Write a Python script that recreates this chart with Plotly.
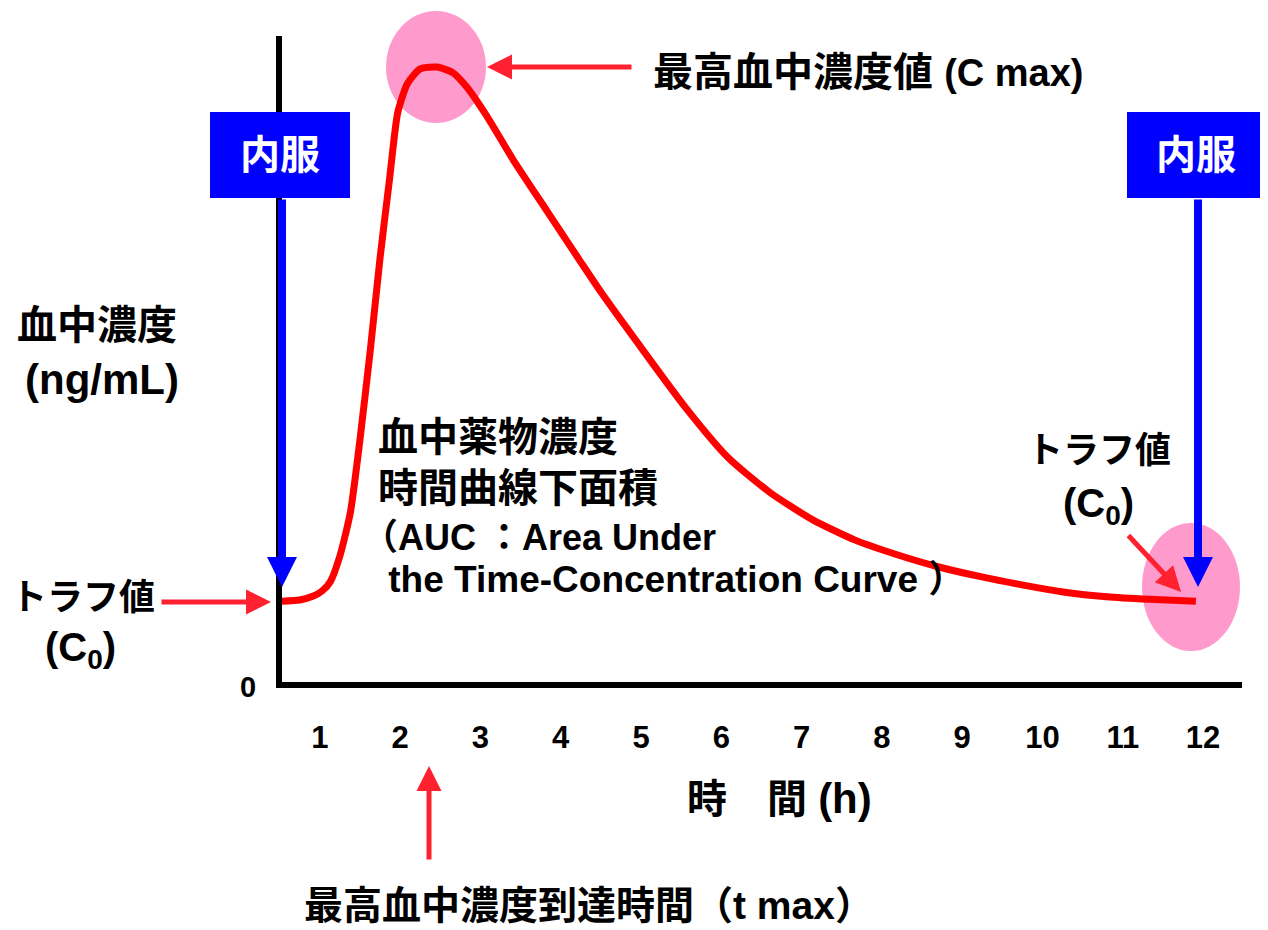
import plotly.graph_objects as go

# ---- data ----
time_h = [0.5, 0.75, 0.92, 1.03, 1.13, 1.25, 1.38, 1.50, 1.63, 1.75,
          1.87, 1.97, 2.09, 2.25, 2.46, 2.66, 2.83, 3.08, 3.41, 3.83,
          4.24, 4.51, 5.04, 5.56, 6.08, 6.61, 7.14, 7.66, 8.19, 8.71,
          9.23, 9.76, 10.28, 10.80, 11.33, 11.91]
conc = [12.5, 12.7, 13.3, 14.1, 15.5, 19.5, 26.2, 37.5, 51.5, 65.6,
        78.0, 88.1, 92.6, 94.9, 95.2, 94.3, 92.1, 87.6, 80.8, 72.9,
        65.2, 60.2, 51.1, 42.4, 34.8, 29.3, 25.1, 22.0, 19.7, 17.8,
        16.3, 15.0, 13.9, 13.2, 12.8, 12.5]
x_ticks = [1, 2, 3, 4, 5, 6, 7, 8, 9, 10, 11, 12]
x_tick_labels = [str(v) for v in x_ticks]
y_ticks = [0]
y_tick_labels = ["0"]

# ---- layout geometry ----
# The page body adds an 8px margin, so the figure is drawn 8px smaller and
# every position below is given in window pixels and shifted by OFF.
OFF = 8
FW, FH = 1268 - OFF, 930 - OFF
L, R, T, B = 282, 1242, 36, 682          # plot area in window pixels
W, H = R - L, B - T


def px(x):
    return (x - L) / W


def py(y):
    return (B - y) / H


FONT = "Liberation Sans, Noto Sans CJK JP, sans-serif"
RED = "#FF0000"
ARED = "#FF2030"
BLUE = "#0000FF"
PINK = "#FF9ACC"

fig = go.Figure()
fig.add_trace(go.Scatter(
    x=time_h, y=conc, mode="lines",
    line=dict(color=RED, width=7, shape="spline", smoothing=0.6),
    hoverinfo="skip", showlegend=False,
))

shapes = [
    dict(type="circle", xref="paper", yref="paper",
         x0=px(386), x1=px(486), y0=py(123), y1=py(11),
         fillcolor=PINK, line=dict(width=0), layer="below"),
    dict(type="circle", xref="paper", yref="paper",
         x0=px(1142), x1=px(1240), y0=py(651), y1=py(523),
         fillcolor=PINK, line=dict(width=0), layer="below"),
    dict(type="rect", xref="paper", yref="paper",
         x0=px(210), x1=px(350), y0=py(198), y1=py(112),
         fillcolor=BLUE, line=dict(width=0), layer="above"),
    dict(type="rect", xref="paper", yref="paper",
         x0=px(1127), x1=px(1265), y0=py(198), y1=py(112),
         fillcolor=BLUE, line=dict(width=0), layer="above"),
]

annotations = []


def arrow(tip, tail, color, width, size, head=2):
    annotations.append(dict(
        xref="paper", yref="paper", x=px(tip[0]), y=py(tip[1]),
        ax=tail[0] - tip[0], ay=tail[1] - tip[1],
        axref="pixel", ayref="pixel",
        text="", showarrow=True, arrowhead=head, arrowsize=size,
        arrowwidth=width, arrowcolor=color, standoff=0, startstandoff=0,
    ))


def label(text, x, y, size=40, color="black", xanchor="left"):
    annotations.append(dict(
        xref="paper", yref="paper", x=px(x), y=py(y),
        xanchor=xanchor, yanchor="middle", text=text, showarrow=False,
        font=dict(family=FONT, size=size, color=color, weight="bold"),
    ))


def sm(t, s):
    return '<span style="font-size:%dpx">%s</span>' % (s, t)


# blue dosing arrows
arrow((282, 587), (282, 198), BLUE, 8, 0.75)
arrow((1198, 587), (1198, 198), BLUE, 8, 0.75)
# red pointer arrows
arrow((487, 67), (633, 67), ARED, 5, 1.0)
arrow((271, 602), (160, 602), ARED, 5, 1.0)
arrow((1181, 592), (1127, 534), ARED, 5, 1.0)
arrow((429, 766), (429, 861), ARED, 5, 1.0)

# texts
label("内服", 280, 155, color="white", xanchor="center")
label("内服", 1196, 155, color="white", xanchor="center")
label("最高血中濃度値 " + sm("(C max)", 38), 651, 72)
label("血中濃度", 15, 325)
label("(ng/mL)", 23, 380, size=42)
label("血中薬物濃度", 376, 437)
label("時間曲線下面積", 376, 488)
label("（AUC ：Area Under", 360, 537, size=36)
label(" the Time-Concentration Curve ）", 376, 579, size=37)
label("トラフ値", 83, 597, size=36, xanchor="center")
label("(C<sub>0</sub>)", 80, 650, xanchor="center")
label("トラフ値", 1099, 450, size=36, xanchor="center")
label("(C<sub>0</sub>)", 1098, 506, xanchor="center")
label("時　間 " + sm("(h)", 42), 685, 798)
label("最高血中濃度到達時間（t max）", 302, 905, size=39)

fig.update_layout(
    width=FW, height=FH, autosize=False,
    margin=dict(l=L - OFF, r=FW - (R - OFF), t=T - OFF, b=FH - (B - OFF),
                pad=0),
    paper_bgcolor="white", plot_bgcolor="white",
    showlegend=False,
    shapes=shapes, annotations=annotations,
    xaxis=dict(
        range=[(L - 239.5) / 80.3, (R - 239.5) / 80.3],
        tickvals=x_ticks, ticktext=x_tick_labels,
        showline=True, linecolor="black", linewidth=6,
        showgrid=False, zeroline=False,
        ticks="", ticklabelstandoff=23,
        tickfont=dict(family=FONT, size=31, color="black", weight="bold"),
        fixedrange=True,
    ),
    yaxis=dict(
        range=[0, 100],
        tickvals=y_ticks, ticktext=y_tick_labels,
        showline=True, linecolor="black", linewidth=6,
        showgrid=False, zeroline=False,
        ticks="", ticklabelstandoff=14, ticklabelshift=5,
        tickfont=dict(family=FONT, size=29, color="black", weight="bold"),
        fixedrange=True,
    ),
)

fig.write_html("out.html")
